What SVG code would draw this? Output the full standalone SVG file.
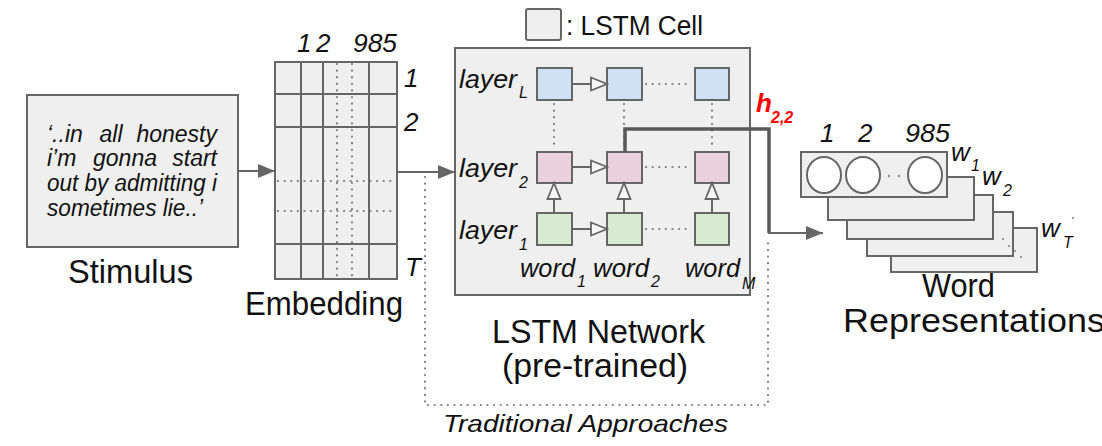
<svg xmlns="http://www.w3.org/2000/svg" width="1102" height="446" viewBox="0 0 1102 446">
  <style>
    text { font-family: "Liberation Sans", Arial, sans-serif; fill: #111; }
    .it { font-style: italic; }
    .big { font-size: 33px; }
    .box { fill: #efefef; stroke: #666; stroke-width: 2; }
    .grid { fill: none; stroke: #666; stroke-width: 2; }
    .dots { fill: none; stroke: #7f7f7f; stroke-width: 2.2; stroke-linecap: round; stroke-dasharray: 0.1 6.5; }
    .cellL { fill: #cfe2f3; stroke: #666; stroke-width: 2; }
    .cell2 { fill: #ead1dc; stroke: #666; stroke-width: 2; }
    .cell1 { fill: #d9ead3; stroke: #666; stroke-width: 2; }
    .flow { fill: none; stroke: #666; stroke-width: 2; }
    .rec { fill: none; stroke: #666; stroke-width: 2; }
    .hpath { fill: none; stroke: #595959; stroke-width: 3.5; }
    .unit { fill: #fff; stroke: #666; stroke-width: 2; }
    .red { fill: #ff0000; font-weight: bold; font-style: italic; }
  </style>
  <defs>
    <marker id="solidHead" markerUnits="userSpaceOnUse" markerWidth="18" markerHeight="16" refX="17" refY="7" orient="auto">
      <path d="M0,0 L17,7 L0,14 z" fill="#666"/>
    </marker>
    <marker id="openHead" markerUnits="userSpaceOnUse" markerWidth="20" markerHeight="18" refX="17" refY="8" orient="auto">
      <path d="M1,1.5 L17,8 L1,14.5 z" fill="#f7f7f7" stroke="#666" stroke-width="1.8" stroke-linejoin="miter"/>
    </marker>
  </defs>

  <rect width="1102" height="446" fill="#fff"/>

  <!-- Stimulus -->
  <g id="stimulus">
    <rect class="box" x="27" y="95" width="211" height="152"/>
    <g class="it" font-size="23">
      <text x="47" y="142">‘..in</text>
      <text x="111" y="142" text-anchor="middle">all</text>
      <text x="217" y="142" text-anchor="end">honesty</text>
      <text x="47" y="166">i’m</text>
      <text x="125" y="166" text-anchor="middle">gonna</text>
      <text x="217" y="166" text-anchor="end">start</text>
      <text x="47" y="191" textLength="170" lengthAdjust="spacingAndGlyphs">out by admitting i</text>
      <text x="47" y="216" textLength="156" lengthAdjust="spacingAndGlyphs">sometimes lie..’</text>
    </g>
    <text class="big" x="68" y="283" textLength="125" lengthAdjust="spacingAndGlyphs">Stimulus</text>
  </g>

  <!-- Embedding matrix -->
  <g id="embedding">
    <rect class="box" x="275" y="62" width="122" height="217"/>
    <path class="grid" d="M301,62 V279 M323,62 V279 M369,62 V279 M275,94 H397 M275,127 H397 M275,244 H397"/>
    <path class="dots" d="M337,64 V278 M352,64 V278 M278,181 H396 M278,211 H396"/>
    <g class="it" font-size="26">
      <text x="297" y="52">1</text>
      <text x="316" y="52">2</text>
      <text x="353" y="52" textLength="44" lengthAdjust="spacingAndGlyphs">985</text>
      <text x="404" y="87">1</text>
      <text x="404" y="131">2</text>
      <text x="405" y="276">T</text>
    </g>
    <text class="big" x="245" y="315" textLength="158" lengthAdjust="spacingAndGlyphs">Embedding</text>
  </g>

  <!-- Legend -->
  <g id="legend">
    <rect class="box" x="526" y="9" width="35" height="31" rx="2"/>
    <text x="566" y="35" font-size="27" textLength="137" lengthAdjust="spacingAndGlyphs">: LSTM Cell</text>
  </g>

  <!-- LSTM network -->
  <g id="lstm">
    <rect class="box" x="455" y="48" width="295" height="247"/>
    <g id="cells">
      <rect class="cellL" x="537" y="68" width="35" height="32"/>
      <rect class="cellL" x="607" y="68" width="35" height="32"/>
      <rect class="cellL" x="695" y="68" width="34" height="32"/>
      <rect class="cell2" x="537" y="152" width="35" height="31"/>
      <rect class="cell2" x="607" y="152" width="35" height="31"/>
      <rect class="cell2" x="695" y="152" width="34" height="31"/>
      <rect class="cell1" x="537" y="213" width="35" height="32"/>
      <rect class="cell1" x="607" y="213" width="35" height="32"/>
      <rect class="cell1" x="695" y="213" width="34" height="32"/>
    </g>
    <g id="cell-links">
      <path class="rec" d="M572,84 H607" marker-end="url(#openHead)"/>
      <path class="rec" d="M572,167 H607" marker-end="url(#openHead)"/>
      <path class="rec" d="M572,229 H607" marker-end="url(#openHead)"/>
      <path class="rec" d="M554,213 V183" marker-end="url(#openHead)"/>
      <path class="rec" d="M624,213 V183" marker-end="url(#openHead)"/>
      <path class="rec" d="M712,213 V183" marker-end="url(#openHead)"/>
      <path class="dots" d="M646,84 H692 M646,167 H692 M646,229 H692 M554,104 V150 M624,104 V150 M712,104 V150"/>
    </g>
    <g class="it" font-size="26">
      <text x="459" y="88" textLength="58" lengthAdjust="spacingAndGlyphs">layer</text>
      <text x="519" y="98" font-size="16">L</text>
      <text x="459" y="177" textLength="58" lengthAdjust="spacingAndGlyphs">layer</text>
      <text x="519" y="188" font-size="16">2</text>
      <text x="459" y="239" textLength="58" lengthAdjust="spacingAndGlyphs">layer</text>
      <text x="519" y="250" font-size="16">1</text>
      <text x="520" y="277" textLength="55" lengthAdjust="spacingAndGlyphs">word</text>
      <text x="577" y="287" font-size="16">1</text>
      <text x="593" y="277" textLength="56" lengthAdjust="spacingAndGlyphs">word</text>
      <text x="651" y="287" font-size="16">2</text>
      <text x="685" y="277" textLength="55" lengthAdjust="spacingAndGlyphs">word</text>
      <text x="742" y="289" font-size="16">M</text>
    </g>
    <text class="big" x="492" y="343" textLength="213" lengthAdjust="spacingAndGlyphs">LSTM Network</text>
    <text class="big" x="502" y="377" textLength="186" lengthAdjust="spacingAndGlyphs">(pre-trained)</text>
  </g>

  <!-- Word representations -->
  <g id="word-reps">
    <rect class="box" x="891" y="228" width="146" height="44"/>
    <rect class="box" x="867" y="212" width="146" height="44"/>
    <rect class="box" x="847" y="195" width="146" height="44"/>
    <rect class="box" x="828" y="177" width="146" height="43"/>
    <rect class="box" x="801" y="152" width="146" height="45"/>
    <ellipse class="unit" cx="824" cy="175" rx="17" ry="18"/>
    <ellipse class="unit" cx="863" cy="175" rx="17" ry="18"/>
    <ellipse class="unit" cx="925" cy="175" rx="17" ry="18"/>
    <g fill="#888">
      <circle cx="889" cy="176" r="1.2"/>
      <circle cx="899" cy="176" r="1.2"/>
      <circle cx="1003" cy="239" r="1.1"/>
      <circle cx="1009" cy="246" r="1.1"/>
      <circle cx="1015" cy="251" r="1.1"/>
      <circle cx="1021" cy="257" r="1.1"/>
      <circle cx="1073" cy="218" r="1.1"/>
    </g>
    <g class="it" font-size="26">
      <text x="820" y="142">1</text>
      <text x="858" y="142">2</text>
      <text x="905" y="142" textLength="45" lengthAdjust="spacingAndGlyphs">985</text>
      <text x="951" y="161">w</text>
      <text x="971" y="171" font-size="16">1</text>
      <text x="982" y="185">w</text>
      <text x="1003" y="196" font-size="16">2</text>
      <text x="1041" y="237">w</text>
      <text x="1063" y="248" font-size="16">T</text>
    </g>
    <text class="big" x="922" y="297" textLength="73" lengthAdjust="spacingAndGlyphs">Word</text>
    <text class="big" x="843" y="332" textLength="262" lengthAdjust="spacingAndGlyphs">Representations</text>
  </g>

  <!-- Connectors -->
  <g id="connectors">
    <path class="flow" d="M238,171 H275" marker-end="url(#solidHead)"/>
    <path class="flow" d="M397,172 H455" marker-end="url(#solidHead)"/>
    <path class="hpath" d="M625,152 V129 H769 V233"/>
    <path class="flow" d="M768,233 H823" marker-end="url(#solidHead)"/>
    <text class="red" x="756" y="112" font-size="26">h</text>
    <text class="red" x="771" y="123" font-size="16">2,2</text>
    <path class="dots" d="M425,177 V405 H768 V240"/>
    <text class="it" x="443" y="432" font-size="24" textLength="285" lengthAdjust="spacingAndGlyphs">Traditional Approaches</text>
  </g>
</svg>
